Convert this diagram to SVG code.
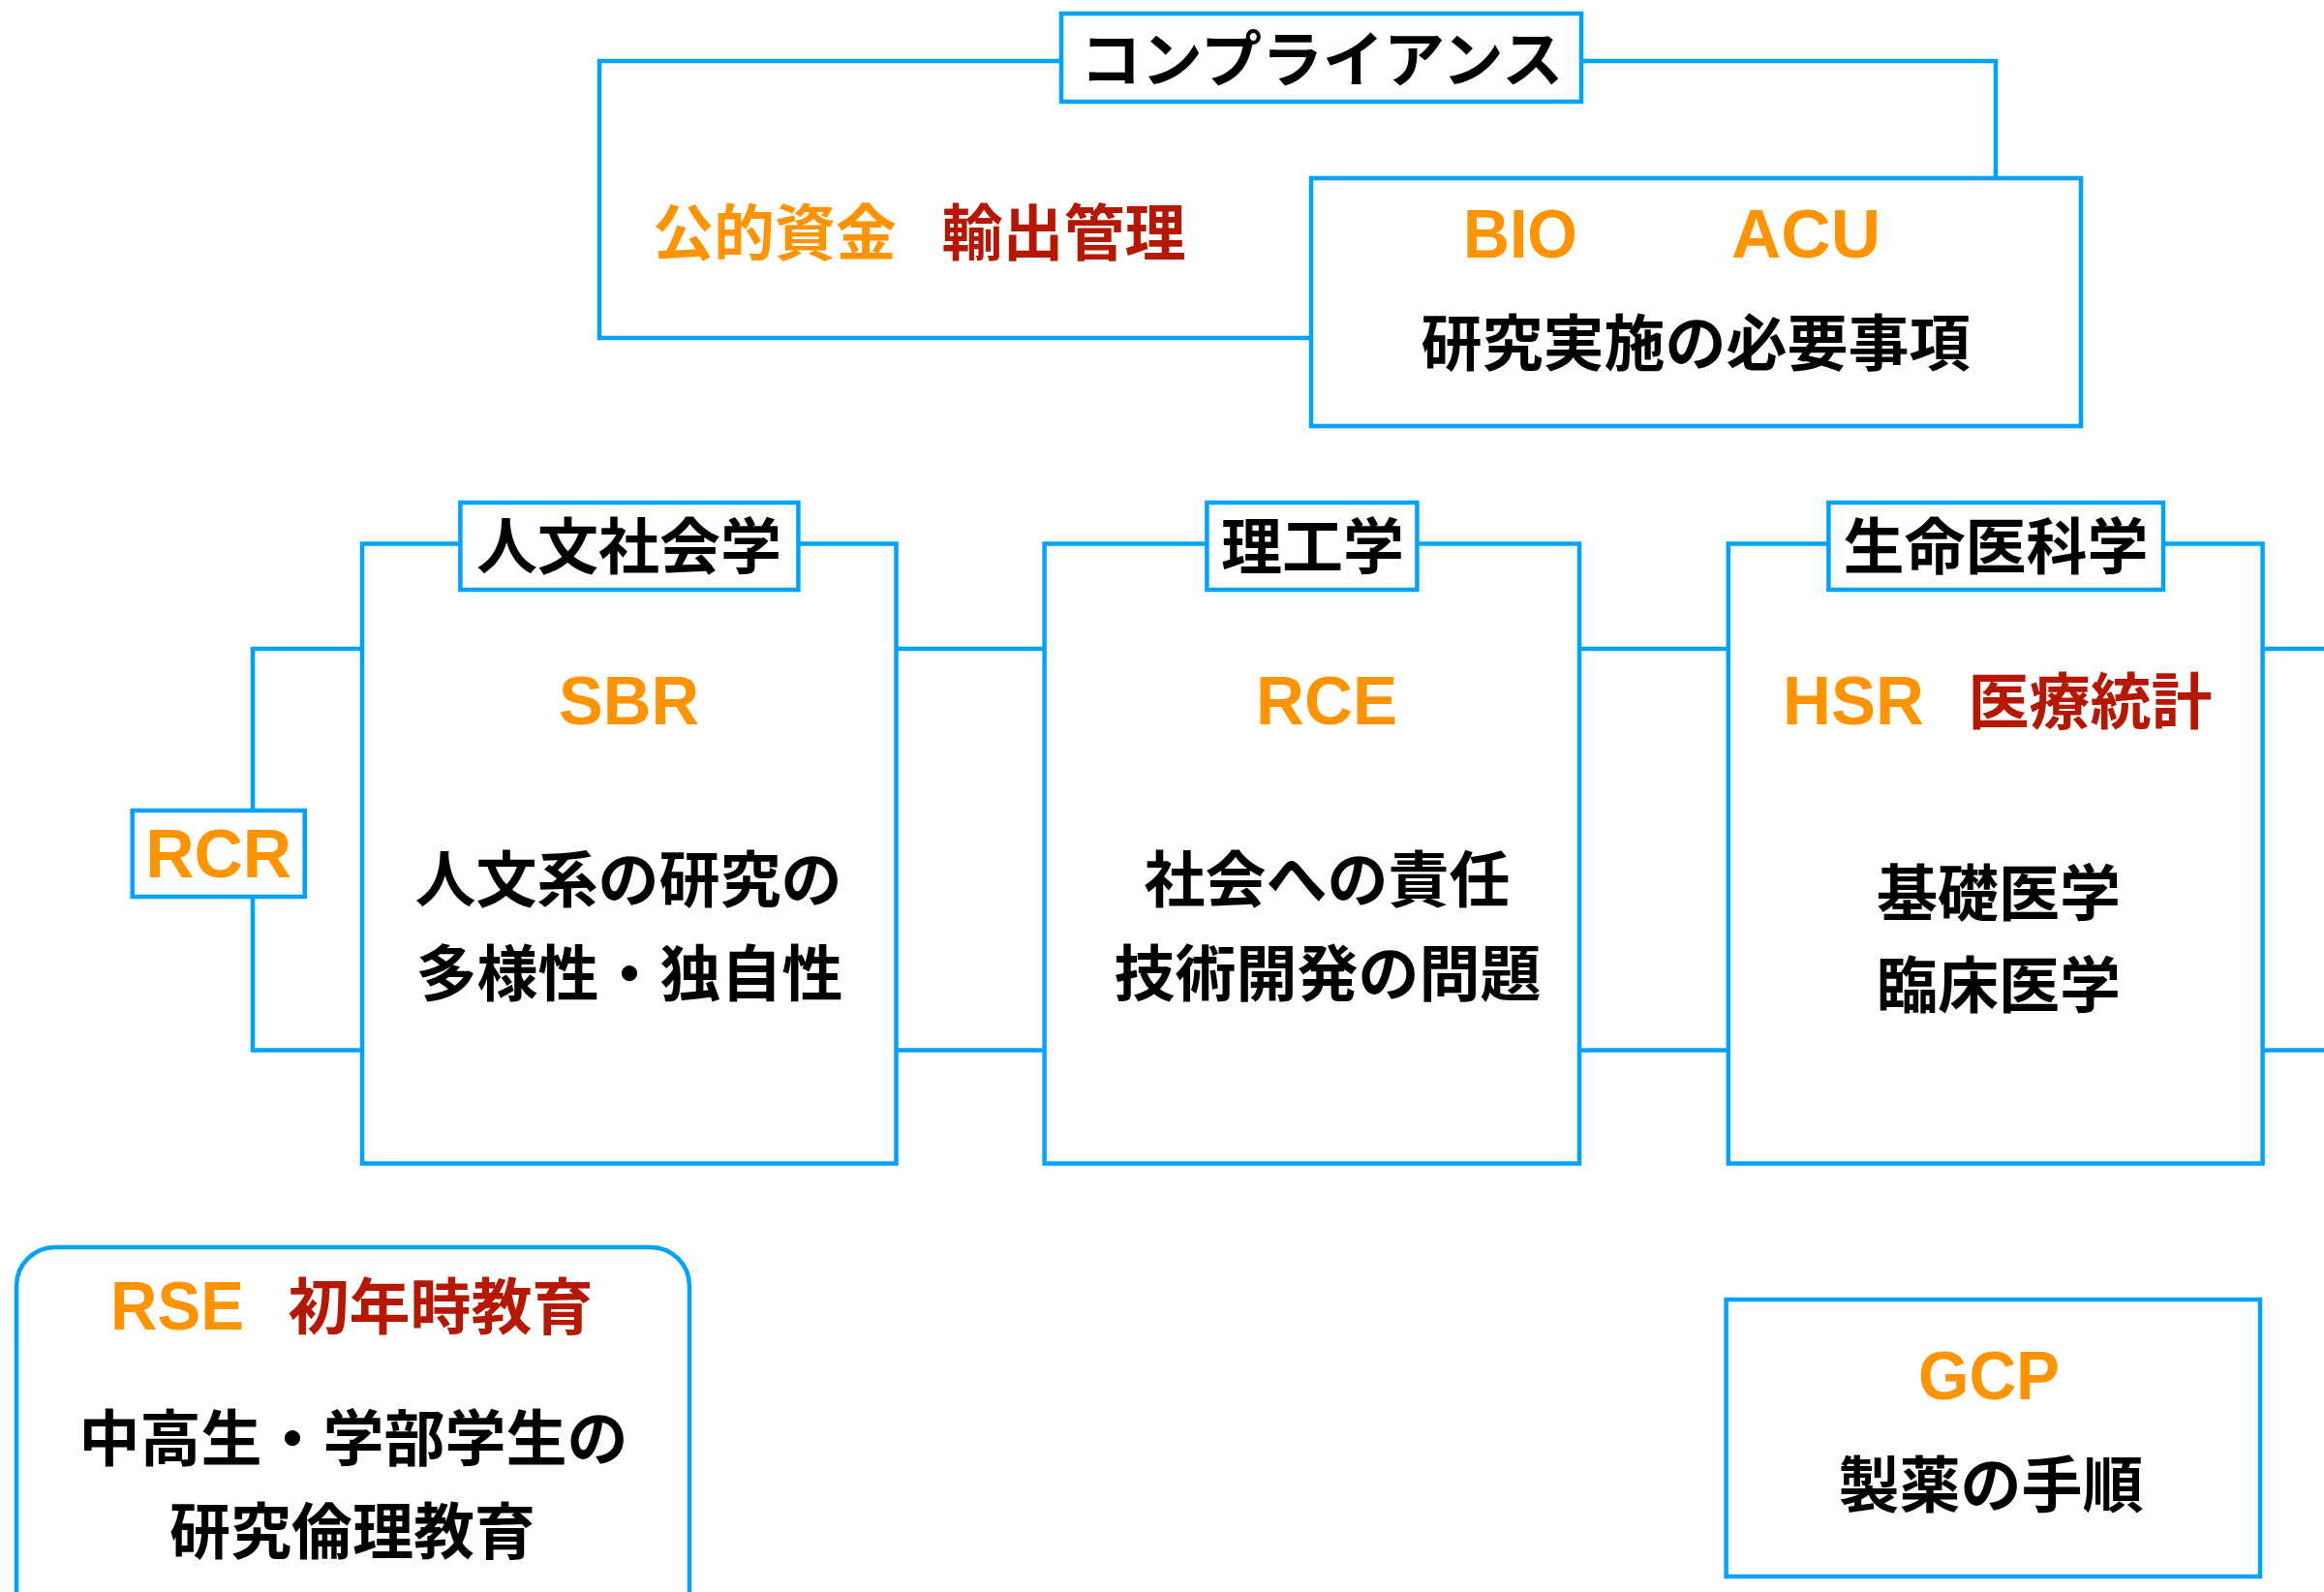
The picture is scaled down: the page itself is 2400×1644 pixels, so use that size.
<svg xmlns="http://www.w3.org/2000/svg" width="2400" height="1644" viewBox="0 0 2400 1644">
<style>
.bx{fill:#fff;stroke:#00A2FF;stroke-width:4.5}
.ln{fill:none;stroke:#00A2FF;stroke-width:4.5}
.jp{font-family:"Noto Sans CJK JP","Noto Sans CJK SC",sans-serif;font-weight:bold;font-size:63px;text-anchor:middle;fill:#000}
.red{fill:#B51700}
.og{fill:#FF9300}
.en{font-family:"Liberation Sans",Arial,sans-serif;font-weight:bold;font-size:71px;text-anchor:middle;fill:#FF9300}
</style>
<rect width="2400" height="1644" fill="#fff"/>
<g id="connectors">
<path class="ln" d="M1096,63 H619 V349 H1354"/>
<path class="ln" d="M1633,63 H2061 V184"/>
<path class="ln" d="M374,670 H261 V1084.5 H374"/>
<path class="ln" d="M925.5,670 H1078.6 M925.5,1084.5 H1078.6"/>
<path class="ln" d="M1631,670 H1784.8 M1631,1084.5 H1784.8"/>
<path class="ln" d="M2336.6,670 H2400 M2336.6,1084.5 H2400"/>
</g>
<g id="compliance-title">
<rect class="bx" x="1096" y="14" width="537" height="91"/>
<text class="jp" x="1365" y="83.5">コンプライアンス</text>
</g>
<g id="compliance-left">
<text class="jp og" x="800" y="263">公的資金</text>
<text class="jp red" x="1098.5" y="263">輸出管理</text>
</g>
<g id="bio-acu">
<rect class="bx" x="1354" y="184" width="795" height="256"/>
<text class="en" x="1570" y="266" textLength="118" lengthAdjust="spacingAndGlyphs">BIO</text>
<text class="en" x="1865" y="266" textLength="154" lengthAdjust="spacingAndGlyphs">ACU</text>
<text class="jp" x="1751" y="377">研究実施の必要事項</text>
</g>
<g id="sbr">
<rect class="bx" x="374" y="561.5" width="551.5" height="640"/>
<text class="en" x="649.5" y="748" textLength="145" lengthAdjust="spacingAndGlyphs">SBR</text>
<text class="jp" x="649" y="931">人文系の研究の</text>
<text class="jp" x="650" y="1028">多様性・独自性</text>
</g>
<g id="humanities-title">
<rect class="bx" x="475.4" y="519" width="349" height="90"/>
<text class="jp" x="649.5" y="587">人文社会学</text>
</g>
<g id="rce">
<rect class="bx" x="1078.6" y="561.5" width="552.4" height="640"/>
<text class="en" x="1370" y="748" textLength="146" lengthAdjust="spacingAndGlyphs">RCE</text>
<text class="jp" x="1370.5" y="931">社会への責任</text>
<text class="jp" x="1371" y="1028">技術開発の問題</text>
</g>
<g id="science-title">
<rect class="bx" x="1246.4" y="519" width="217" height="90"/>
<text class="jp" x="1355.5" y="587">理工学</text>
</g>
<g id="hsr">
<rect class="bx" x="1784.8" y="561.5" width="551.8" height="640"/>
<text class="en" x="1914" y="748" textLength="146" lengthAdjust="spacingAndGlyphs">HSR</text>
<text class="jp red" x="2158.5" y="747">医療統計</text>
<text class="jp" x="2064" y="945">基礎医学</text>
<text class="jp" x="2064" y="1040">臨床医学</text>
</g>
<g id="life-title">
<rect class="bx" x="1888.4" y="519" width="345.6" height="90"/>
<text class="jp" x="2061" y="587">生命医科学</text>
</g>
<g id="rcr">
<rect class="bx" x="136.7" y="837" width="178" height="89"/>
<text class="en" x="225.7" y="906" textLength="151" lengthAdjust="spacingAndGlyphs">RCR</text>
</g>
<g id="rse">
<rect class="bx" x="17" y="1288" width="695" height="420" rx="40" ry="40"/>
<text class="en" x="183" y="1373" textLength="138" lengthAdjust="spacingAndGlyphs">RSE</text>
<text class="jp red" x="455" y="1372">初年時教育</text>
<text class="jp" x="365" y="1508">中高生・学部学生の</text>
<text class="jp" x="364" y="1604">研究倫理教育</text>
</g>
<g id="gcp">
<rect class="bx" x="1782.6" y="1342" width="551.4" height="286"/>
<text class="en" x="2054" y="1445" textLength="146" lengthAdjust="spacingAndGlyphs">GCP</text>
<text class="jp" x="2056" y="1555.5">製薬の手順</text>
</g>
</svg>
